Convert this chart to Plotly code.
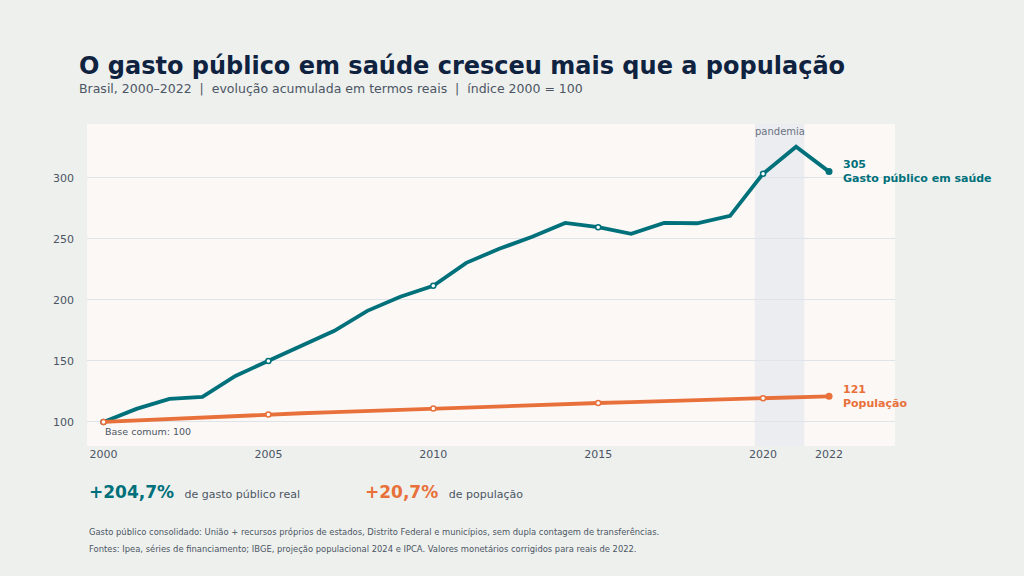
import plotly.graph_objects as go

years = list(range(2000, 2023))
saude = [100, 110.7, 118.9, 120.5, 137.7, 150, 163, 174.6, 191, 202.5, 211.5, 230.3, 241.8, 251.6, 263, 259.5, 254, 263, 262.7, 268.8, 303.3, 325.4, 305]
populacao = [100, 101.3, 102.6, 103.7, 104.9, 106, 107.1, 108.1, 109.1, 110.1, 111, 111.9, 112.8, 113.7, 114.6, 115.5, 116.3, 117.1, 117.9, 118.7, 119.5, 120.3, 121]
xticks = [2000, 2005, 2010, 2015, 2020, 2022]
yticks = [100, 150, 200, 250, 300]
TEAL = "#00707a"
ORANGE = "#e8703a"

fig = go.Figure()
fig.add_vrect(x0=2019.75, x1=2021.25, fillcolor="#e6eaf0", opacity=0.8, line_width=0, layer="below")
fig.add_annotation(x=2020.5, y=1, yref="paper", yanchor="top", text="pandemia", showarrow=False,
                   font=dict(size=10, color="#6b7280"))
for ys, c, name in [(saude, TEAL, "Gasto público em saúde"), (populacao, ORANGE, "População")]:
    fig.add_trace(go.Scatter(x=years, y=ys, mode="lines", line=dict(color=c, width=3.8), hoverinfo="skip"))
    mk = [y for y in years if y in (2000, 2005, 2010, 2015, 2020)]
    fig.add_trace(go.Scatter(x=mk, y=[ys[years.index(y)] for y in mk], mode="markers",
                             marker=dict(size=5, color="white", line=dict(color=c, width=1.5))))
    fig.add_trace(go.Scatter(x=[2022], y=[ys[-1]], mode="markers", marker=dict(size=7, color=c)))
    fig.add_annotation(x=2022, y=ys[-1], xanchor="left", xshift=12, align="left", showarrow=False,
                       text=f"<b>{round(ys[-1])}</b><br><b>{name}</b>", font=dict(size=11, color=c,
                       family="DejaVu Sans"))
fig.add_annotation(x=2000, y=100, xanchor="left", yanchor="top", yshift=-2, showarrow=False,
                   text="Base comum: 100", font=dict(size=9.5, color="#4b5563"))

fig.update_layout(
    width=1024, height=576, showlegend=False,
    margin=dict(l=87, r=129, t=124, b=130),
    paper_bgcolor="#eef0ee", plot_bgcolor="rgba(253,249,246,0.92)",
    font=dict(family="DejaVu Sans", color="#4b5563"),
    xaxis=dict(range=[1999.5, 2024], tickvals=xticks, showgrid=False, zeroline=False,
               tickfont=dict(size=11, color="#4b5563")),
    yaxis=dict(range=[80.3, 344], tickvals=yticks, gridcolor="#dfe3ea", zeroline=False,
               tickfont=dict(size=11, color="#4b5563"), ticklabelstandoff=12),
)
ann = [
    (77, 66, "<b>O gasto público em saúde cresceu mais que a população</b>", 24, "#0f2340"),
    (77, 89, "Brasil, 2000–2022  |  evolução acumulada em termos reais  |  índice 2000 = 100", 12.5, "#4b5563"),
    (87, 532, "Gasto público consolidado: União + recursos próprios de estados, Distrito Federal e municípios, sem dupla contagem de transferências.", 8.4, "#4b5563"),
    (87, 549, "Fontes: Ipea, séries de financiamento; IBGE, projeção populacional 2024 e IPCA. Valores monetários corrigidos para reais de 2022.", 8.4, "#4b5563"),
    (87, 492, f"<b><span style='color:{TEAL};font-size:17px'>+204,7%</span></b>   de gasto público real", 11, "#4b5563"),
    (363, 492, f"<b><span style='color:{ORANGE};font-size:17px'>+20,7%</span></b>   de população", 11, "#4b5563"),
]
for x, y, t, s, c in ann:
    fig.add_annotation(x=(x - 87) / 808, y=1 - (y - 124) / 322, xref="paper", yref="paper",
                       xanchor="left", yanchor="middle", text=t, showarrow=False, font=dict(size=s, color=c))
fig.write_html("out.html", config={"displayModeBar": False})
with open("out.html", encoding="utf-8") as f:
    html = f.read()
html = html.replace("<head>", "<head><style>html,body{margin:0;padding:0;background:#eef0ee;}</style>", 1)
with open("out.html", "w", encoding="utf-8") as f:
    f.write(html)
